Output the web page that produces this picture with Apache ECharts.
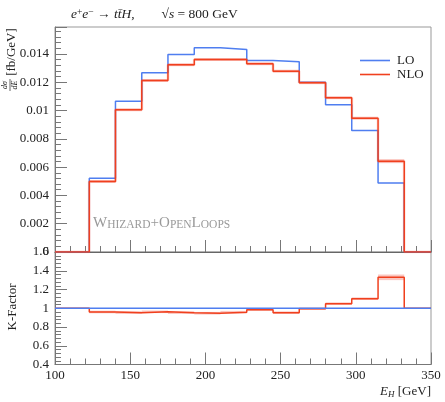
<!DOCTYPE html>
<html>
<head>
<meta charset="utf-8">
<script src="https://cdn.jsdelivr.net/npm/echarts@6/dist/echarts.min.js"></script>
<style>
  html, body { margin: 0; padding: 0; background: #fff; }
  #chart { width: 445px; height: 402px; }
</style>
</head>
<body>
<div id="chart"></div>
<script>
// bin edges of E_H [GeV]
const edges = [122.8, 140.2, 157.7, 175.1, 192.6, 210.0, 227.5, 245.0, 262.4, 279.9, 297.3, 314.8, 332.2];
// dsigma/dE [fb/GeV]
const loVals  = [0.00522, 0.01066, 0.01266, 0.01395, 0.01443, 0.01431, 0.01353, 0.01344, 0.01200, 0.01040, 0.00859, 0.00487];
const nloVals = [0.00499, 0.01005, 0.01212, 0.01323, 0.01360, 0.01360, 0.01330, 0.01278, 0.01196, 0.01090, 0.00946, 0.00642];
const nloErr  = [0.00003, 0.00003, 0.00003, 0.00004, 0.00004, 0.00004, 0.00004, 0.00004, 0.00004, 0.00005, 0.00007, 0.00014];
// K-factor NLO/LO
const kVals = [0.960, 0.953, 0.962, 0.953, 0.947, 0.958, 0.985, 0.953, 0.996, 1.049, 1.102, 1.330];
const kErr  = [0.005, 0.005, 0.005, 0.005, 0.005, 0.005, 0.005, 0.005, 0.005, 0.007, 0.009, 0.030];
const yTopTicks = [0, 0.002, 0.004, 0.006, 0.008, 0.01, 0.012, 0.014];

const X_MIN = 100, X_MAX = 350;
const BLUE = '#4f7ef0', RED = '#f0401e', BAND = 'rgba(240,70,50,0.3)', HALO = 'rgba(240,70,50,0.15)';
const FONT = 'Liberation Serif';

// step outline: flat "base" outside the binned range
function stepLine(vals, base) {
  const pts = [[X_MIN, base]];
  for (let i = 0; i < vals.length; i++) pts.push([edges[i], vals[i]]);
  pts.push([edges[edges.length - 1], base]);
  pts.push([X_MAX, base]);
  return pts;
}
function bandData(vals, errs) {
  return vals.map((v, i) => [edges[i], edges[i + 1], v - errs[i], v + errs[i]]);
}
function bandItem(params, api) {
  const p0 = api.coord([api.value(0), api.value(3)]);
  const p1 = api.coord([api.value(1), api.value(2)]);
  let h = p1[1] - p0[1];
  let y = p0[1];
  if (h < 2.6) { y -= (2.6 - h) / 2; h = 2.6; }
  return { type: 'rect', shape: { x: p0[0], y: y, width: p1[0] - p0[0], height: h },
           style: { fill: BAND }, silent: true };
}

const chart = echarts.init(document.getElementById('chart'));

const axisCommon = {
  axisLine: { lineStyle: { color: '#777', width: 1 } },
  splitLine: { show: false },
  axisTick: { inside: true, length: 12, lineStyle: { color: '#777' } },
  minorTick: { show: true, splitNumber: 5, length: 6, lineStyle: { color: '#777' } },
  axisLabel: { fontFamily: FONT, fontSize: 13, color: '#222' }
};

chart.setOption({
  animation: false,
  textStyle: { fontFamily: FONT },
  title: {
    left: 66, top: 2,
    text: '{i|e}{s|+}{i|e}{s|\u2212}{n| \u2192 }{i|tt\u0304H}{n|,        \u221A}{i|s}{n| = 800 GeV}',
    textStyle: {
      fontWeight: 'normal',
      rich: {
        i: { fontFamily: FONT, fontStyle: 'italic', fontWeight: 'normal', fontSize: 13.5, color: '#222' },
        n: { fontFamily: FONT, fontWeight: 'normal', fontSize: 13.5, color: '#222' },
        s: { fontFamily: FONT, fontWeight: 'normal', fontSize: 9.5, color: '#222', verticalAlign: 'top' }
      }
    }
  },
  legend: {
    data: ['LO', 'NLO'],
    orient: 'vertical',
    left: 355, top: 49,
    icon: 'rect',
    itemWidth: 30, itemHeight: 1.6, itemGap: 1,
    textStyle: { fontFamily: FONT, fontSize: 13, color: '#222', padding: [0, 0, 0, 2] }
  },
  grid: [
    { left: 55, right: 14, top: 27, height: 225, show: true, borderColor: '#999', borderWidth: 1 },
    { left: 55, right: 14, top: 252, height: 112.5, show: true, borderColor: '#999', borderWidth: 1 }
  ],
  xAxis: [
    Object.assign({}, axisCommon, {
      type: 'value', gridIndex: 0, min: X_MIN, max: X_MAX, interval: 50,
      axisLine: { lineStyle: { color: '#666', width: 1.2 } },
      axisLabel: { show: false }
    }),
    Object.assign({}, axisCommon, {
      type: 'value', gridIndex: 1, min: X_MIN, max: X_MAX, interval: 50,
      axisLabel: { fontFamily: FONT, fontSize: 13, color: '#222', margin: 5 }
    })
  ],
  yAxis: [
    Object.assign({}, axisCommon, {
      type: 'value', gridIndex: 0, min: 0, max: 0.0159, interval: 0.002,
      axisLabel: { fontFamily: FONT, fontSize: 13, color: '#222', margin: 6, showMaxLabel: false,
        formatter: v => yTopTicks.some(t => Math.abs(t - v) < 1e-9) ? String(+v.toFixed(3)) : '' }
    }),
    Object.assign({}, axisCommon, {
      type: 'value', gridIndex: 1, min: 0.4, max: 1.6, interval: 0.2,
      axisLabel: { fontFamily: FONT, fontSize: 13, color: '#222', margin: 6,
        formatter: v => String(+v.toFixed(1)) }
    })
  ],
  series: [
    { name: 'LO', type: 'line', step: 'end', xAxisIndex: 0, yAxisIndex: 0, symbol: 'none',
      data: stepLine(loVals, 0), lineStyle: { color: BLUE, width: 1.5 }, itemStyle: { color: BLUE }, z: 2 },
    { name: 'nloBand', type: 'custom', xAxisIndex: 0, yAxisIndex: 0,
      data: bandData(nloVals, nloErr), renderItem: bandItem, z: 3 },
    { name: 'nloHalo', type: 'line', step: 'end', xAxisIndex: 0, yAxisIndex: 0, symbol: 'none',
      data: stepLine(nloVals, 0), lineStyle: { color: HALO, width: 3 }, silent: true, z: 3 },
    { name: 'NLO', type: 'line', step: 'end', xAxisIndex: 0, yAxisIndex: 0, symbol: 'none',
      data: stepLine(nloVals, 0), lineStyle: { color: RED, width: 1.5 }, itemStyle: { color: RED }, z: 4 },

    { name: 'kBand', type: 'custom', xAxisIndex: 1, yAxisIndex: 1,
      data: bandData(kVals, kErr), renderItem: bandItem, z: 3 },
    { name: 'kNLO', type: 'line', step: 'end', xAxisIndex: 1, yAxisIndex: 1, symbol: 'none',
      data: stepLine(kVals, 1), lineStyle: { color: RED, width: 1.5 }, z: 4 },
    { name: 'kLO', type: 'line', xAxisIndex: 1, yAxisIndex: 1, symbol: 'none',
      data: [[X_MIN, 1], [X_MAX, 1]], lineStyle: { color: BLUE, width: 1.5 }, z: 5 }
  ],
  graphic: [
    // y title of the upper panel: dsigma/dE [fb/GeV]
    { type: 'text', x: 12, y: 52, rotation: Math.PI / 2,
      style: { text: '[fb/GeV]', font: '13px "Liberation Serif"', fill: '#222', align: 'center', verticalAlign: 'middle' } },
    { type: 'text', x: 5, y: 85, rotation: Math.PI / 2,
      style: { text: 'd\u03C3', font: 'italic 8px "Liberation Serif"', fill: '#222', align: 'center', verticalAlign: 'middle' } },
    { type: 'text', x: 15, y: 85, rotation: Math.PI / 2,
      style: { text: 'dE', font: 'italic 8px "Liberation Serif"', fill: '#222', align: 'center', verticalAlign: 'middle' } },
    { type: 'line', shape: { x1: 10, y1: 79, x2: 10, y2: 91 }, style: { stroke: '#222', lineWidth: 0.7 } },
    // y title of the lower panel
    { type: 'text', x: 13, y: 307, rotation: Math.PI / 2,
      style: { text: 'K-Factor', font: '13px "Liberation Serif"', fill: '#222', align: 'center', verticalAlign: 'middle' } },
    // x title
    { type: 'text', right: 14, top: 385,
      style: { text: '{i|E}{b|H}{n| [GeV]}', fill: '#222',
        rich: {
          i: { fontFamily: FONT, fontStyle: 'italic', fontSize: 13 },
          b: { fontFamily: FONT, fontStyle: 'italic', fontSize: 9, verticalAlign: 'bottom', padding: [6, 0, 0, 0] },
          n: { fontFamily: FONT, fontSize: 13 }
        } } },
    // watermark in small caps
    { type: 'text', left: 93, top: 216,
      style: { text: '{b|W}{s|HIZARD}{b|+O}{s|PEN}{b|L}{s|OOPS}', fill: '#999',
        rich: {
          b: { fontFamily: FONT, fontSize: 15, color: '#999', verticalAlign: 'bottom' },
          s: { fontFamily: FONT, fontSize: 11.5, color: '#999', verticalAlign: 'bottom' }
        } } }
  ]
});
</script>
</body>
</html>
